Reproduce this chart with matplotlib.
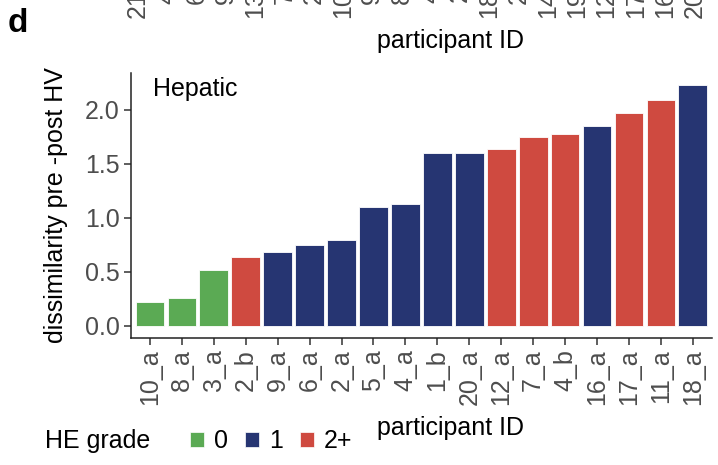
import numpy as np
import matplotlib.pyplot as plt
from matplotlib.patches import Patch

plt.rcParams['font.family'] = ['Liberation Sans', 'DejaVu Sans']

# hepatic panel
participants = ["10_a", "8_a", "3_a", "2_b", "9_a", "6_a", "2_a", "5_a", "4_a",
                "1_b", "20_a", "12_a", "7_a", "4_b", "16_a", "17_a", "11_a", "18_a"]
dissimilarity = [0.22, 0.26, 0.52, 0.64, 0.68, 0.75, 0.80, 1.10, 1.13,
                 1.60, 1.60, 1.64, 1.75, 1.78, 1.85, 1.97, 2.09, 2.23]
he_grade = ["0", "0", "0", "2+", "1", "1", "1", "1", "1",
            "1", "1", "2+", "2+", "2+", "1", "2+", "2+", "1"]

# tick labels of the panel above (cut off by the figure edge)
prev_labels = ["21_a", "4_a", "6_a", "9_a", "13_a", "7_a", "2_a", "10_a", "9_b", "8_a",
               "4_c", "2_c", "18_a", "2_d", "14_a", "19_a", "12_b", "17_b", "16_b", "20_b"]

grade_levels = ["0", "1", "2+"]
grade_colors = {"0": "#5BAA54", "1": "#263572", "2+": "#CF4A40"}

fs = 18
tick_grey = "#4D4D4D"

fig = plt.figure(figsize=(7.18, 4.65), dpi=100)
W, H = 718, 465


def px_box(x0, y0, x1, y1):
    return [x0 / W, 1 - y1 / H, (x1 - x0) / W, (y1 - y0) / H]


ax = fig.add_axes(px_box(130.8, 73, 712, 338))
x = np.arange(len(participants))
ax.bar(x, dissimilarity, width=0.9, color=[grade_colors[g] for g in he_grade],
       edgecolor="white", linewidth=0.6)
ax.set_xlim(-0.6, len(participants) - 0.4)
ymax = max(dissimilarity)
ax.set_ylim(-0.05 * ymax, ymax * 1.05)
ax.set_yticks([0.0, 0.5, 1.0, 1.5, 2.0])
ax.set_yticklabels(["0.0", "0.5", "1.0", "1.5", "2.0"])
ax.set_xticks(x)
ax.set_xticklabels(participants, rotation=90)
ax.tick_params(axis="both", labelsize=fs, labelcolor=tick_grey, color="#333333",
               length=5, width=1.1, pad=3)
for s in ["top", "right"]:
    ax.spines[s].set_visible(False)
for s in ["left", "bottom"]:
    ax.spines[s].set_linewidth(1.1)
    ax.spines[s].set_color("#222222")
ax.set_ylabel("dissimilarity pre -post HV", fontsize=fs, labelpad=12)
ax.text(0.038, 0.985, "Hepatic", transform=ax.transAxes, fontsize=fs, va="top", ha="left")

# bottom of the panel above
ax_top = fig.add_axes(px_box(130.8, -87, 712, -49))
ax_top.set_xlim(-0.25, 19.6)
ax_top.set_xticks(np.arange(len(prev_labels)))
ax_top.set_xticklabels(prev_labels, rotation=90)
ax_top.tick_params(axis="x", labelsize=fs, labelcolor=tick_grey, length=5, pad=3)
ax_top.set_yticks([])
for s in ax_top.spines.values():
    s.set_visible(False)

fig.text(451 / W, 1 - 41 / H, "participant ID", fontsize=fs, ha="center", va="center")
fig.text(451 / W, 1 - 428 / H, "participant ID", fontsize=fs, ha="center", va="center")
fig.text(8 / W, 1 - 23 / H, "d", fontsize=24, fontweight="bold", ha="left", va="center")

# legend
fig.text(45 / W, 1 - 441 / H, "HE grade", fontsize=fs, ha="left", va="center")
handles = [Patch(facecolor=grade_colors[g], edgecolor="white", linewidth=0.5) for g in grade_levels]
fig.legend(handles, grade_levels, ncol=3, frameon=False, fontsize=fs,
           loc="center left", bbox_to_anchor=(190 / W, 1 - 441 / H),
           handlelength=0.55, handleheight=0.55, handletextpad=0.4,
           columnspacing=0.7, borderpad=0, borderaxespad=0)

fig.savefig("out.png", dpi=100)
